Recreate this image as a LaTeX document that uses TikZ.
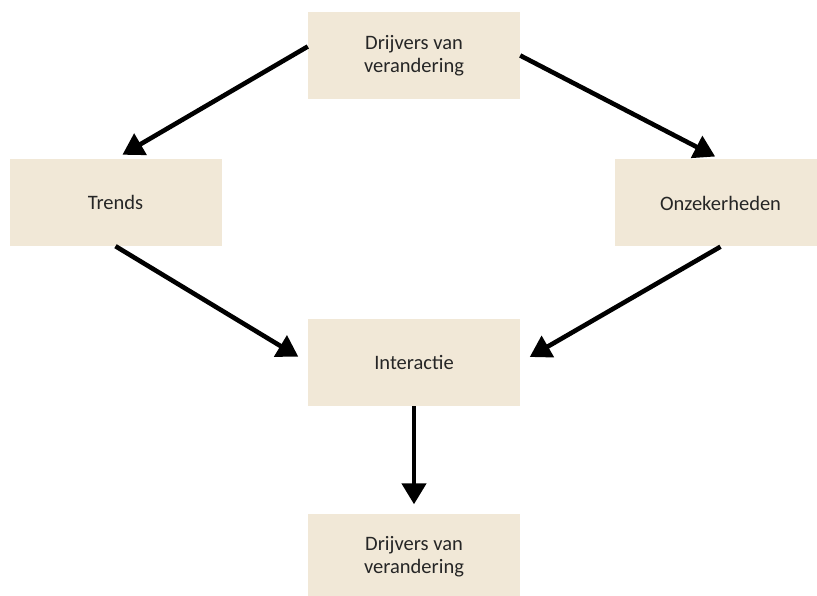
\documentclass[tikz,border=0pt]{standalone}
\usepackage{fontspec}
\setmainfont{Carlito}
\usetikzlibrary{arrows.meta}
\definecolor{boxfill}{HTML}{F1E8D7}
\tikzset{
  box/.style={fill=boxfill, draw=none, minimum width=212pt, minimum height=87pt,
    align=center, font=\fontsize{20.5}{23}\selectfont, text=black!85},
  pijl/.style={line width=4.6pt, -{Triangle[length=21pt,width=24pt]}}
}
\begin{document}
\begin{tikzpicture}[x=1pt,y=-1pt]
  \useasboundingbox (0,0) rectangle (817,596);
  \node[box] (drivers) at (414,55.5) {Drijvers van\\verandering};
  \node[box] (trends) at (115.5,202.5) {Trends};
  \node[box] (onzeker) at (720.5,203) {Onzekerheden};
  \node[box] (interactie) at (414,362.5) {Interactie};
  \node[box] (drivers2) at (414,557) {Drijvers van\\verandering};
  % pijlen
  \draw[pijl, shorten >=8pt] ([yshift=9pt]drivers.west) -- (trends.north);
  \draw[pijl, shorten >=6pt] (drivers.east) -- (onzeker.north);
  \draw[pijl, shorten >=11pt] (trends.south) -- (interactie.west);
  \draw[pijl, shorten >=11pt] (onzeker.south) -- (interactie.east);
  \draw[pijl, shorten >=9pt] (interactie.south) -- (drivers2.north);
\end{tikzpicture}
\end{document}
